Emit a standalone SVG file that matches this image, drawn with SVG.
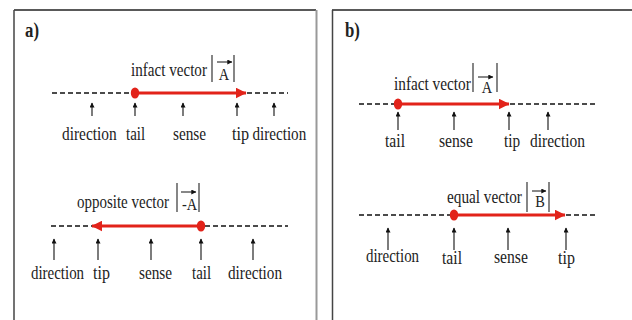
<svg xmlns="http://www.w3.org/2000/svg" width="632" height="320" viewBox="0 0 632 320">
<defs>
<marker id="up" viewBox="0 0 8 8" refX="7" refY="4" markerWidth="7" markerHeight="5" markerUnits="userSpaceOnUse" orient="auto"><path d="M0,0 L8,4 L0,8 z" fill="#111"/></marker>
<marker id="sm" viewBox="0 0 8 8" refX="7.5" refY="4" markerWidth="6" markerHeight="5" markerUnits="userSpaceOnUse" orient="auto"><path d="M0,0 L8,4 L0,8 z" fill="#111"/></marker>
<marker id="red" viewBox="0 0 10 10" refX="9.5" refY="5" markerWidth="11" markerHeight="11" markerUnits="userSpaceOnUse" orient="auto"><path d="M0,0 L10,5 L0,10 z" fill="#e2231a"/></marker>
</defs>
<style>
text{font-family:"Liberation Serif","Times New Roman",serif;fill:#222;}
.lbl{font-size:18px;}
.ttl{font-size:20px;font-weight:bold;}
.sym{font-size:16px;}
.dash{stroke:#111;stroke-width:1.6;stroke-dasharray:5,3;fill:none;}
.vec{stroke:#e2231a;stroke-width:3.2;fill:none;}
.dot{fill:#e2231a;}
.ua{stroke:#111;stroke-width:1.1;fill:none;}
.bar{stroke:#222;stroke-width:1.1;}
.tn{stroke:#111;stroke-width:1;}
</style>
<rect width="632" height="320" fill="#fff"/>
<g id="panels">
<line x1="14" y1="10" x2="316" y2="10" stroke="#222" stroke-width="1.5"/>
<line x1="14" y1="10" x2="14" y2="320" stroke="#444" stroke-width="1.5"/>
<line x1="316.5" y1="10" x2="316.5" y2="320" stroke="#999" stroke-width="2"/>
<line x1="332" y1="10" x2="632" y2="10" stroke="#222" stroke-width="1.5"/>
<line x1="332.5" y1="10" x2="332.5" y2="320" stroke="#444" stroke-width="1.5"/>
<text class="ttl" transform="translate(25,37) scale(0.84,1)">a)</text>
<text class="ttl" transform="translate(345,37) scale(0.84,1)">b)</text>
</g>
<g id="connectors">
<line class="dash" x1="52" y1="93" x2="133" y2="93"/>
<line class="vec" x1="135" y1="93" x2="246" y2="93" marker-end="url(#red)"/>
<line class="dash" x1="247" y1="93" x2="288" y2="93"/>
<line class="ua" x1="92" y1="116" x2="92" y2="103" marker-end="url(#up)"/>
<line class="ua" x1="135" y1="116" x2="135" y2="103" marker-end="url(#up)"/>
<line class="ua" x1="183" y1="116" x2="183" y2="103" marker-end="url(#up)"/>
<line class="ua" x1="237" y1="116" x2="237" y2="103" marker-end="url(#up)"/>
<line class="ua" x1="274" y1="116" x2="274" y2="103" marker-end="url(#up)"/>
<line class="dash" x1="51" y1="226" x2="92" y2="226"/>
<line class="vec" x1="201" y1="226" x2="92" y2="226" marker-end="url(#red)"/>
<line class="dash" x1="205" y1="226" x2="288" y2="226"/>
<line class="ua" x1="54" y1="260" x2="54" y2="239" marker-end="url(#up)"/>
<line class="ua" x1="98" y1="260" x2="98" y2="239" marker-end="url(#up)"/>
<line class="ua" x1="151" y1="260" x2="151" y2="239" marker-end="url(#up)"/>
<line class="ua" x1="201" y1="260" x2="201" y2="239" marker-end="url(#up)"/>
<line class="ua" x1="253" y1="260" x2="253" y2="239" marker-end="url(#up)"/>
<line class="dash" x1="359" y1="104" x2="394" y2="104"/>
<line class="vec" x1="398" y1="104" x2="509" y2="104" marker-end="url(#red)"/>
<line class="dash" x1="510" y1="104" x2="595" y2="104"/>
<line class="ua" x1="398" y1="130" x2="398" y2="112" marker-end="url(#up)"/>
<line class="ua" x1="454" y1="130" x2="454" y2="112" marker-end="url(#up)"/>
<line class="ua" x1="509" y1="130" x2="509" y2="112" marker-end="url(#up)"/>
<line class="ua" x1="548" y1="130" x2="548" y2="112" marker-end="url(#up)"/>
<line class="dash" x1="359" y1="215" x2="451" y2="215"/>
<line class="vec" x1="454" y1="215" x2="565" y2="215" marker-end="url(#red)"/>
<line class="dash" x1="566" y1="215" x2="595" y2="215"/>
<line class="ua" x1="388" y1="250" x2="388" y2="228" marker-end="url(#up)"/>
<line class="ua" x1="454" y1="250" x2="454" y2="228" marker-end="url(#up)"/>
<line class="ua" x1="508" y1="250" x2="508" y2="228" marker-end="url(#up)"/>
<line class="ua" x1="566" y1="250" x2="566" y2="228" marker-end="url(#up)"/>
</g>
<g id="a-top">
<ellipse class="dot" cx="135" cy="93" rx="4.2" ry="5.5"/>
<text class="lbl" transform="translate(131,76) scale(0.84,1)">infact vector</text>
<line class="bar" x1="212" y1="55" x2="212" y2="82"/>
<line class="bar" x1="234" y1="55" x2="234" y2="82"/>
<line class="tn" x1="217" y1="62" x2="232" y2="62" marker-end="url(#sm)"/>
<text class="sym" transform="translate(224,80) scale(0.9,1)" text-anchor="middle">A</text>
<text class="lbl" transform="translate(62,140) scale(0.855,1)">direction</text>
<text class="lbl" transform="translate(126,140) scale(0.83,1)">tail</text>
<text class="lbl" transform="translate(173,140) scale(0.85,1)">sense</text>
<text class="lbl" transform="translate(232,140) scale(0.9,1)">tip</text>
<text class="lbl" transform="translate(252.5,140) scale(0.84,1)">direction</text>
</g>
<g id="a-bottom">
<ellipse class="dot" cx="201" cy="226" rx="4.2" ry="5.5"/>
<text class="lbl" transform="translate(77,208) scale(0.833,1)">opposite vector</text>
<line class="bar" x1="177" y1="183" x2="177" y2="212"/>
<line class="bar" x1="199" y1="183" x2="199" y2="212"/>
<line class="tn" x1="181" y1="192" x2="196" y2="192" marker-end="url(#sm)"/>
<text class="sym" transform="translate(182,210) scale(0.9,1)">-A</text>
<text class="lbl" transform="translate(31,279) scale(0.83,1)">direction</text>
<text class="lbl" transform="translate(93,279) scale(0.89,1)">tip</text>
<text class="lbl" transform="translate(139,279) scale(0.85,1)">sense</text>
<text class="lbl" transform="translate(192,279) scale(0.83,1)">tail</text>
<text class="lbl" transform="translate(228,279) scale(0.845,1)">direction</text>
</g>
<g id="b-top">
<ellipse class="dot" cx="398" cy="104" rx="4.2" ry="5.5"/>
<text class="lbl" transform="translate(394,90) scale(0.85,1)">infact vector</text>
<line class="bar" x1="473" y1="63" x2="473" y2="92"/>
<line class="bar" x1="497" y1="63" x2="497" y2="92"/>
<line class="tn" x1="478" y1="77" x2="493" y2="77" marker-end="url(#sm)"/>
<text class="sym" transform="translate(487,93) scale(0.9,1)" text-anchor="middle">A</text>
<text class="lbl" transform="translate(385,147) scale(0.87,1)">tail</text>
<text class="lbl" transform="translate(439,147) scale(0.87,1)">sense</text>
<text class="lbl" transform="translate(504,147) scale(0.85,1)">tip</text>
<text class="lbl" transform="translate(530,147) scale(0.86,1)">direction</text>
</g>
<g id="b-bottom">
<ellipse class="dot" cx="454" cy="215" rx="4.2" ry="5.5"/>
<text class="lbl" transform="translate(447,203) scale(0.848,1)">equal vector</text>
<line class="bar" x1="527" y1="182" x2="527" y2="212"/>
<line class="bar" x1="549" y1="182" x2="549" y2="212"/>
<line class="tn" x1="532" y1="191" x2="546" y2="191" marker-end="url(#sm)"/>
<text class="sym" transform="translate(540,207) scale(0.9,1)" text-anchor="middle">B</text>
<text class="lbl" transform="translate(366,262) scale(0.83,1)">direction</text>
<text class="lbl" transform="translate(442,264) scale(0.87,1)">tail</text>
<text class="lbl" transform="translate(494,263) scale(0.87,1)">sense</text>
<text class="lbl" transform="translate(558,264) scale(0.89,1)">tip</text>
</g>
</svg>
